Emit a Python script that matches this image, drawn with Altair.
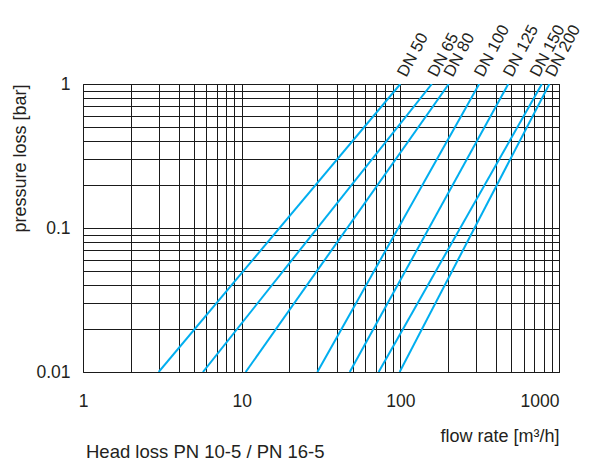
import math
import altair as alt
import pandas as pd

# Nominal sizes and line end points
dn_labels = ["DN 50", "DN 65", "DN 80", "DN 100", "DN 125", "DN 150", "DN 200"]
flow_at_low = [3.0, 5.7, 10.6, 30.0, 48.0, 73.0, 99.0]          # m3/h at 0.01 bar
flow_at_high = [100.0, 158.0, 202.0, 314.0, 479.0, 780.0, 870.0]  # m3/h at 1 bar
p_low = 0.01
p_high = 1.0

x_ticks = [1, 10, 100, 1000]
y_ticks = [0.01, 0.1, 1]
x_grid = [1, 2, 3, 4, 5, 6, 7, 8, 9, 10, 20, 30, 40, 50, 60, 70, 80, 90,
          100, 200, 300, 400, 500, 600, 700, 800, 900, 1000]
y_grid = [0.01, 0.02, 0.03, 0.04, 0.05, 0.06, 0.07, 0.08, 0.09,
          0.1, 0.2, 0.3, 0.4, 0.5, 0.6, 0.7, 0.8, 0.9, 1]

footnote = "Head loss PN 10-5 / PN 16-5"

# style: screen shift (px) of each rotated label from its line's top end
label_shift_x = [6, 5, 4, 4, 4, -3, 5]
label_shift_y = -6
LABEL_ANGLE = 298

rows = []
for name, lo, hi in zip(dn_labels, flow_at_low, flow_at_high):
    rows.append({"dn": name, "q": lo, "p": p_low})
    rows.append({"dn": name, "q": hi, "p": p_high})
lines_df = pd.DataFrame(rows)

FONT = "Liberation Sans"
TXT = "#231f20"
GRID = "#1a1a1a"
BLUE = "#00aeef"

xscale = alt.Scale(type="log", domain=[1, 1000], nice=False)
yscale = alt.Scale(type="log", domain=[0.01, 1], nice=False)

x_label_expr = "indexof([" + ",".join(str(v) for v in x_ticks) + "], datum.value) >= 0 ? format(datum.value, '') : ''"
y_label_expr = "indexof([" + ",".join(str(v) for v in y_ticks) + "], datum.value) >= 0 ? format(datum.value, '') : ''"

x_axis = alt.Axis(
    values=x_grid, labelExpr=x_label_expr, grid=True, ticks=False, domain=False,
    gridColor=GRID, gridWidth=1, gridOpacity=1,
    labelFont=FONT, labelFontSize=17.5, labelColor=TXT, labelPadding=20,
    labelOverlap=False, labelFlush=False,
    labelAlign={"condition": {"test": "datum.value >= 1000", "value": "right"}, "value": "center"},
    title="flow rate [m³/h]", titleFont=FONT, titleFontSize=18, titleFontWeight="normal",
    titleColor=TXT, titleAnchor="end", titlePadding=18,
)
y_axis = alt.Axis(
    values=y_grid, labelExpr=y_label_expr, grid=True, ticks=False, domain=False,
    gridColor=GRID, gridWidth=1, gridOpacity=1,
    labelFont=FONT, labelFontSize=17.5, labelColor=TXT, labelPadding=13,
    labelOverlap=False, labelFlush=False,
    title="pressure loss [bar]", titleFont=FONT, titleFontSize=18, titleFontWeight="normal",
    titleColor=TXT, titleAnchor="end", titlePadding=6,
)

lines = alt.Chart(lines_df).mark_line(color=BLUE, strokeWidth=2, clip=True).encode(
    x=alt.X("q:Q", scale=xscale, axis=x_axis),
    y=alt.Y("p:Q", scale=yscale, axis=y_axis),
    detail="dn:N",
)

a = math.radians(360 - LABEL_ANGLE)
layers = [lines]
for name, hi, sx in zip(dn_labels, flow_at_high, label_shift_x):
    sy = label_shift_y
    # convert screen shift into the rotated text frame
    dx = sx * math.cos(a) - sy * math.sin(a)
    dy = sx * math.sin(a) + sy * math.cos(a)
    layers.append(
        alt.Chart(pd.DataFrame({"dn": [name], "q": [hi], "p": [p_high]})).mark_text(
            angle=LABEL_ANGLE, align="left", baseline="alphabetic",
            dx=round(dx, 2), dy=round(dy, 2),
            font=FONT, fontSize=16.5, color=TXT,
        ).encode(
            x=alt.X("q:Q", scale=xscale),
            y=alt.Y("p:Q", scale=yscale),
            text="dn:N",
        )
    )

note = alt.Chart(pd.DataFrame({"t": [footnote]})).mark_text(
    align="left", baseline="alphabetic", font=FONT, fontSize=18.5, color=TXT,
).encode(
    x=alt.value(3), y=alt.value(374), text="t:N",
)
layers.append(note)

chart = alt.layer(*layers).properties(
    width=476, height=288,
    autosize=alt.AutoSizeParams(type="none"),
    padding={"left": 75, "top": 76, "right": 27, "bottom": 95},
    background="white",
).configure_view(stroke=GRID, strokeWidth=1)

chart.save("out.html", embed_options={"renderer": "svg", "actions": False})
